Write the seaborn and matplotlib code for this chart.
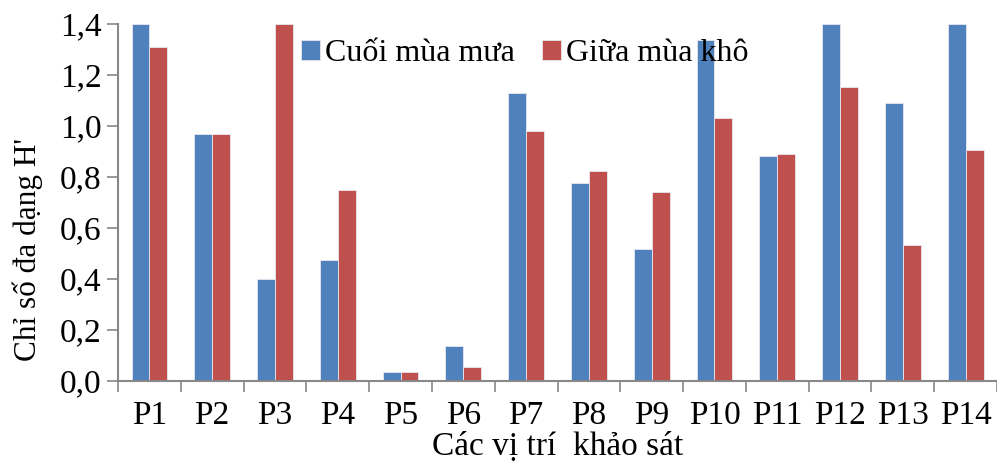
import matplotlib
matplotlib.use("Agg")
import matplotlib.pyplot as plt
import seaborn as sns
import pandas as pd
from matplotlib.ticker import FuncFormatter, FixedLocator

sites = ["P1", "P2", "P3", "P4", "P5", "P6", "P7", "P8", "P9", "P10", "P11", "P12", "P13", "P14"]
cuoi_mua_mua = [1.40, 0.967, 0.399, 0.475, 0.035, 0.137, 1.13, 0.776, 0.518, 1.337, 0.882, 1.40, 1.09, 1.40]
giua_mua_kho = [1.31, 0.967, 1.40, 0.75, 0.035, 0.055, 0.98, 0.823, 0.74, 1.031, 0.891, 1.152, 0.532, 0.906]
series_names = ["Cuối mùa mưa", "Giữa mùa khô"]
colors = ["#4F81BD", "#C0504D"]

df = pd.DataFrame({
    "site": sites * 2,
    "value": cuoi_mua_mua + giua_mua_kho,
    "series": [series_names[0]] * len(sites) + [series_names[1]] * len(sites),
})

sns.set_theme(style="white")
plt.rcParams['font.family'] = ['Liberation Serif', 'DejaVu Serif']
plt.rcParams['text.color'] = 'black'
plt.rcParams['axes.labelcolor'] = 'black'
plt.rcParams['xtick.color'] = 'black'
plt.rcParams['ytick.color'] = 'black'

FS = 24

fig = plt.figure(figsize=(9.97, 4.62), dpi=100)
ax = fig.add_axes([0.1184, 0.1753, 0.8816, 0.7727])

sns.barplot(data=df, x="site", y="value", hue="series", palette=colors,
            width=0.57, edgecolor="#e8e8f0", linewidth=0.6, ax=ax, saturation=1)

ax.set_ylim(0, 1.4)
ax.set_xlim(-0.5, len(sites) - 0.5)
ax.set_yticks([0, 0.2, 0.4, 0.6, 0.8, 1.0, 1.2, 1.4])
ax.yaxis.set_major_formatter(FuncFormatter(lambda v, p: f"{v:.1f}".replace(".", ",")))

ax.xaxis.set_minor_locator(FixedLocator([i - 0.5 for i in range(len(sites) + 1)]))
ax.tick_params(axis="x", which="major", length=0, labelsize=FS, pad=14, labelcolor="black")
ax.tick_params(axis="x", which="minor", length=8, width=1.2, color="#888888", direction="out", bottom=True)
ax.tick_params(axis="y", which="major", length=8, width=1.2, color="#888888", direction="out", left=True,
               labelsize=FS, pad=4, labelcolor="black")

for s in ["top", "right"]:
    ax.spines[s].set_visible(False)
for s in ["left", "bottom"]:
    ax.spines[s].set_color("#888888")
    ax.spines[s].set_linewidth(1.5)

ax.set_xlabel("Các vị trí  khảo sát", fontsize=FS, labelpad=0.5, color="black")
ax.set_ylabel("Chỉ số đa dạng H'", fontsize=22.5, color="black")
ax.yaxis.set_label_coords(-0.085, 0.367)

ax.legend(loc="center left", bbox_to_anchor=(0.302, 0.884), bbox_transform=fig.transFigure,
          ncol=2, frameon=False, fontsize=23, handlelength=0.6, handleheight=0.6,
          handletextpad=0.15, columnspacing=0.85, borderpad=0, borderaxespad=0)

fig.savefig("out.png", dpi=100)
